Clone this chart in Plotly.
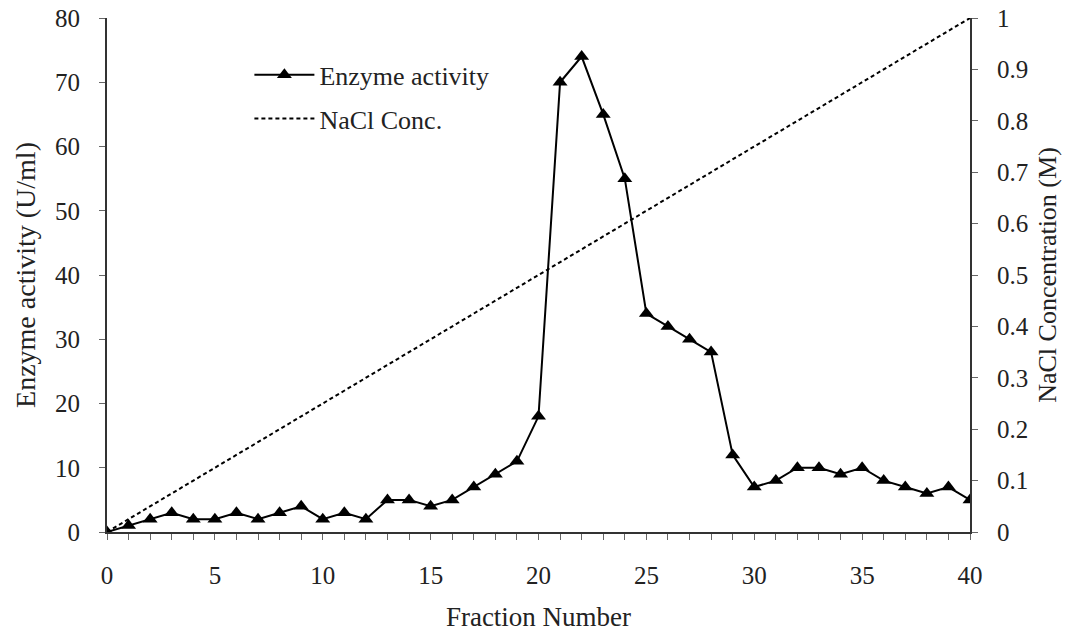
import plotly.graph_objects as go

fraction = list(range(0, 41))
enzyme_activity = [0, 1, 2, 3, 2, 2, 3, 2, 3, 4, 2, 3, 2, 5, 5, 4, 5, 7, 9, 11,
                   18, 70, 74, 65, 55, 34, 32, 30, 28, 12, 7, 8, 10, 10, 9, 10, 8, 7, 6, 7, 5]
nacl_fraction = [0, 40]
nacl_conc = [0, 1]

FONT = "Liberation Serif"

fig = go.Figure()
fig.add_trace(go.Scatter(
    x=fraction, y=enzyme_activity, name="Enzyme activity",
    mode="lines+markers", legendgroup="a",
    line=dict(color="black", width=2),
    marker=dict(symbol="triangle-up", size=13, color="black"),
))
fig.add_trace(go.Scatter(
    x=nacl_fraction, y=nacl_conc, name="NaCl Conc.", yaxis="y2",
    mode="lines", legendgroup="b",
    line=dict(color="black", width=2, dash="4px,3px"),
))

axis_common = dict(
    showgrid=False, zeroline=False, showline=True, linecolor="#333",
    linewidth=2, ticks="outside", ticklen=6, tickcolor="#666",
    tickfont=dict(family=FONT, size=25, color="#222"),
    automargin=False, ticklabelstandoff=14,
)

fig.update_layout(
    width=1065, height=632,
    margin=dict(l=107, r=95, t=18, b=100),
    paper_bgcolor="white", plot_bgcolor="white",
    font=dict(family=FONT, color="#222"),
    showlegend=True,
    legend=dict(
        x=0.165, y=0.935, xanchor="left", yanchor="top",
        font=dict(family=FONT, size=26, color="#222"),
        bgcolor="rgba(0,0,0,0)", tracegroupgap=7,
        traceorder="grouped", itemwidth=60,
    ),
    xaxis=dict(
        range=[0, 40], dtick=5, tick0=0,
        minor=dict(dtick=1, ticks="outside", ticklen=6, tickcolor="#666"),
        title=dict(text="Fraction Number", font=dict(family=FONT, size=27), standoff=25),
        **axis_common,
    ),
    yaxis=dict(
        range=[0, 80], dtick=10,
        title=dict(text="Enzyme activity (U/ml)", font=dict(family=FONT, size=28), standoff=11),
        **axis_common,
    ),
    yaxis2=dict(
        range=[0, 1], dtick=0.1, overlaying="y", side="right",
        title=dict(text="NaCl Concentration (M)", font=dict(family=FONT, size=26), standoff=10),
        **axis_common,
    ),
)

fig.write_html("out.html")
